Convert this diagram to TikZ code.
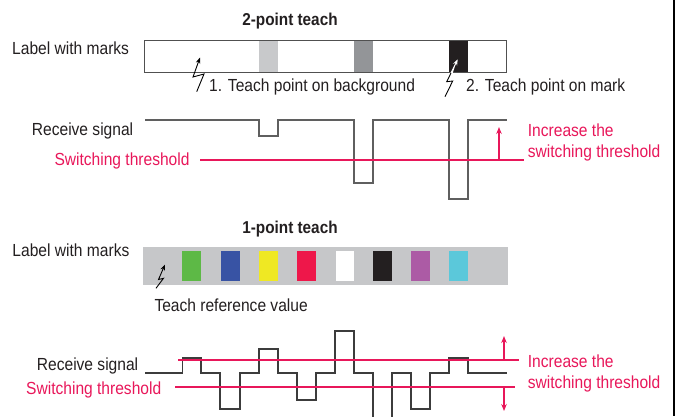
\documentclass[tikz,border=0pt]{standalone}
\usepackage{fontspec}
\setmainfont{Liberation Sans}[FakeStretch=0.89]
\usetikzlibrary{arrows.meta}
\definecolor{pinkred}{RGB}{232,23,90}
\definecolor{txtblack}{RGB}{35,31,32}
\definecolor{edgegray}{RGB}{80,80,80}
\definecolor{sig1}{RGB}{95,95,95}
\definecolor{sig2}{RGB}{60,60,60}
\definecolor{lgray}{RGB}{200,201,203}
\definecolor{mgray}{RGB}{147,149,152}
\definecolor{mblack}{RGB}{35,31,32}
\definecolor{stripgray}{RGB}{198,199,201}
\definecolor{mgreen}{RGB}{93,185,70}
\definecolor{mblue}{RGB}{56,83,164}
\definecolor{myellow}{RGB}{239,232,35}
\definecolor{mred}{RGB}{238,23,74}
\definecolor{mpurple}{RGB}{172,91,165}
\definecolor{mcyan}{RGB}{91,200,218}
\begin{document}
\begin{tikzpicture}[x=1pt,y=-1pt,
  txt/.style={font=\fontsize{17.5}{20}\selectfont, text=txtblack, anchor=base west, inner sep=0pt},
  ptxt/.style={txt, text=pinkred},
  btxt/.style={font=\fontsize{17.2}{20}\selectfont\bfseries, text=txtblack, anchor=base, inner sep=0pt},
  markbox/.style={anchor=north west, inner sep=0pt, outer sep=0pt, minimum width=19pt, draw=none},
  ltn/.style={line width=0.9pt, -{Stealth[length=6pt,width=4.5pt]}},
  thr/.style={draw=pinkred, line width=1.3pt},
  parrow/.style={draw=pinkred, line width=1.3pt, -{Stealth[length=7pt,width=5.5pt]}}]
\useasboundingbox (0,0) rectangle (676,416);

% ---------- 2-point teach ----------
\node[btxt] (title1) at (290,25) {2-point teach};
\node[txt] (lab1) at (12,54) {Label with marks};

\node[markbox, fill=lgray, minimum height=32pt] (m1a) at (259,40) {};
\node[markbox, fill=mgray, minimum height=32pt] (m1b) at (354,40) {};
\node[markbox, fill=mblack, minimum height=32pt] (m1c) at (449,40) {};
\node[anchor=north west, draw=edgegray, line width=1.2pt, minimum width=362pt, minimum height=32pt, inner sep=0pt] (strip1) at (144,40) {};

\coordinate (a1s) at (196.7,91.7);
\coordinate (a1b) at (204,74);
\coordinate (a1c) at (193,77);
\coordinate (a1t) at (200,57.5);
\draw[ltn] (a1s) -- (a1b) -- (a1c) -- (a1t);
\node[txt] (tp1) at (209,91) {1. Teach point on background};

\coordinate (a2s) at (445,96.7);
\coordinate (a2b) at (452.7,81);
\coordinate (a2c) at (446.7,81.7);
\coordinate (a2t) at (457.7,59.3);
\draw[ltn] (a2s) -- (a2b) -- (a2c) -- (a2t);
\begin{scope}
  \clip (m1c.north west) rectangle (m1c.south east);
  \draw[ltn, draw=white, fill=white] (a2s) -- (a2b) -- (a2c) -- (a2t);
\end{scope}
\node[txt] (tp2) at (466,91) {2. Teach point on mark};

\node[txt] (rs1) at (31.7,135) {Receive signal};
\node[ptxt] (st1) at (54.3,165) {Switching threshold};

\draw[sig1, line width=1.5pt, line join=miter]
  (145,120) -- (259,120) -- (259,136) -- (278,136) -- (278,120)
  -- (354,120) -- (354,183) -- (373,183) -- (373,120)
  -- (449,120) -- (449,199) -- (468,199) -- (468,120) -- (507,120);

\coordinate (th1s) at (200,160);
\coordinate (th1e) at (524,160);
\draw[thr] (th1s) -- (th1e);
\coordinate (up1s) at (499,159);
\coordinate (up1t) at (499,127);
\draw[parrow] (up1s) -- (up1t);
\node[ptxt] (inc1a) at (527.7,136.5) {Increase the};
\node[ptxt] (inc1b) at (527.7,157.3) {switching threshold};

% ---------- 1-point teach ----------
\node[btxt] (title2) at (290,233) {1-point teach};
\node[txt] (lab2) at (12.3,256.5) {Label with marks};

\node[anchor=north west, fill=stripgray, minimum width=365pt, minimum height=38pt, inner sep=0pt] (strip2) at (143,247) {};
\node[markbox, fill=mgreen, minimum height=30pt] (c1) at (182,251) {};
\node[markbox, fill=mblue, minimum height=30pt] (c2) at (220.5,251) {};
\node[markbox, fill=myellow, minimum height=30pt] (c3) at (259,251) {};
\node[markbox, fill=mred, minimum height=30pt] (c4) at (297,251) {};
\node[markbox, fill=white, minimum height=30pt, minimum width=17.5pt] (c5) at (336,251) {};
\node[markbox, fill=mblack, minimum height=30pt] (c6) at (373,251) {};
\node[markbox, fill=mpurple, minimum height=30pt] (c7) at (411,251) {};
\node[markbox, fill=mcyan, minimum height=30pt] (c8) at (449,251) {};

\coordinate (a3s) at (156,288.3);
\coordinate (a3b) at (163.5,278.3);
\coordinate (a3c) at (158.5,279.5);
\coordinate (a3t) at (165,264.5);
\draw[ltn] (a3s) -- (a3b) -- (a3c) -- (a3t);
\node[txt] (trv) at (154.3,311.5) {Teach reference value};

\node[txt] (rs2) at (36.7,370) {Receive signal};
\node[ptxt] (st2) at (26,394) {Switching threshold};

\draw[sig2, line width=1.5pt, line join=miter]
  (145,373) -- (182.5,373) -- (182.5,358) -- (201,358) -- (201,373)
  -- (220,373) -- (220,409) -- (240,409) -- (240,373)
  -- (259,373) -- (259,349) -- (278,349) -- (278,373)
  -- (297,373) -- (297,400) -- (316,400) -- (316,373)
  -- (335,373) -- (335,331) -- (354,331) -- (354,373)
  -- (373,373) -- (373,425) -- (392,425) -- (392,373)
  -- (411,373) -- (411,409) -- (430,409) -- (430,373)
  -- (449,373) -- (449,358) -- (468,358) -- (468,373) -- (507,373);

\coordinate (th2as) at (178,360);
\coordinate (th2ae) at (519,360);
\coordinate (th2bs) at (175,387);
\coordinate (th2be) at (515,387);
\draw[thr] (th2as) -- (th2ae);
\draw[thr] (th2bs) -- (th2be);
\coordinate (up2s) at (504,359);
\coordinate (up2t) at (504,336);
\coordinate (dn2s) at (504,388);
\coordinate (dn2t) at (504,411);
\draw[parrow] (up2s) -- (up2t);
\draw[parrow] (dn2s) -- (dn2t);
\node[ptxt] (inc2a) at (527.7,367) {Increase the};
\node[ptxt] (inc2b) at (527.7,388.3) {switching threshold};

% right border line
\coordinate (rb1) at (673.5,0);
\coordinate (rb2) at (673.5,416);
\draw[line width=2pt, black] (rb1) -- (rb2);
\end{tikzpicture}
\end{document}
